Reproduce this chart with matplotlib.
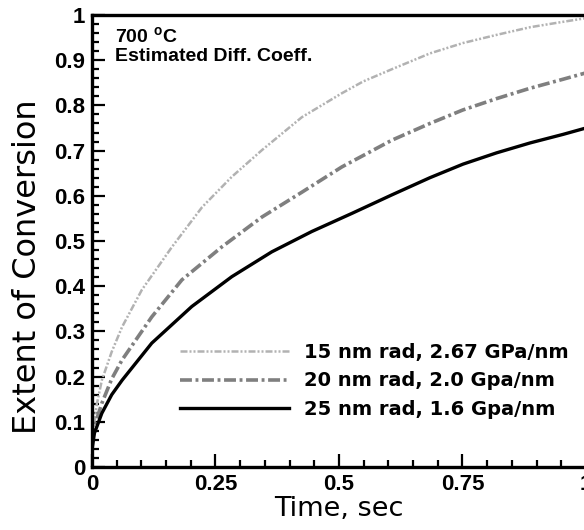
import matplotlib

matplotlib.use("Agg")
import matplotlib.pyplot as plt
from matplotlib.ticker import MultipleLocator

plt.rcParams["font.family"] = ["Liberation Sans", "DejaVu Sans"]

# values
t_15nm = [0.0, 0.01, 0.02, 0.04, 0.061, 0.101, 0.162, 0.223, 0.283, 0.344,
          0.425, 0.506, 0.549, 0.607, 0.684, 0.751, 0.819, 0.887, 0.954, 1.0]
x_15nm = [0.06, 0.14, 0.192, 0.255, 0.31, 0.392, 0.487, 0.575, 0.642, 0.701,
          0.774, 0.827, 0.853, 0.88, 0.915, 0.938, 0.956, 0.973, 0.985, 0.993]

t_20nm = [0.0, 0.008, 0.02, 0.04, 0.061, 0.121, 0.182, 0.263, 0.344, 0.425,
          0.506, 0.607, 0.684, 0.751, 0.819, 0.887, 0.954, 1.0]
x_20nm = [0.06, 0.10, 0.141, 0.195, 0.237, 0.332, 0.414, 0.487, 0.553, 0.608,
          0.664, 0.723, 0.76, 0.79, 0.815, 0.838, 0.858, 0.872]

t_25nm = [0.0, 0.005, 0.02, 0.04, 0.061, 0.121, 0.202, 0.283, 0.364, 0.445,
          0.526, 0.607, 0.684, 0.751, 0.819, 0.887, 0.954, 1.0]
x_25nm = [0.038, 0.075, 0.119, 0.16, 0.192, 0.274, 0.355, 0.421, 0.476, 0.521,
          0.561, 0.602, 0.64, 0.67, 0.695, 0.717, 0.736, 0.75]

labels = ["15 nm rad, 2.67 GPa/nm", "20 nm rad, 2.0 Gpa/nm", "25 nm rad, 1.6 Gpa/nm"]
x_ticks = [0, 0.25, 0.5, 0.75, 1]
x_tick_labels = ["0", "0.25", "0.5", "0.75", "1"]
y_ticks = [0, 0.1, 0.2, 0.3, 0.4, 0.5, 0.6, 0.7, 0.8, 0.9, 1]
y_tick_labels = ["0", "0.1", "0.2", "0.3", "0.4", "0.5", "0.6", "0.7", "0.8", "0.9", "1"]

fig = plt.figure(figsize=(5.84, 5.30), dpi=100)
ax = fig.add_axes([0.1575, 0.1189, 0.8459, 0.8528])

ax.plot(t_15nm, x_15nm, color="#b2b2b2", linewidth=1.8,
        dashes=(2.8, 0.8, 0.8, 0.8, 0.8, 0.8), label=labels[0])
ax.plot(t_20nm, x_20nm, color="#7f7f7f", linewidth=2.6,
        dashes=(3.3, 1.0, 0.8, 1.0), label=labels[1])
ax.plot(t_25nm, x_25nm, color="black", linewidth=2.4, label=labels[2])

ax.set_xlim(0, 1)
ax.set_ylim(0, 1)
ax.set_xticks(x_ticks, labels=x_tick_labels)
ax.set_yticks(y_ticks, labels=y_tick_labels)
ax.xaxis.set_minor_locator(MultipleLocator(0.05))
ax.yaxis.set_minor_locator(MultipleLocator(0.02))
ax.tick_params(which="both", direction="in", top=False, right=False, width=1.6)
ax.tick_params(which="major", length=9.5, labelsize=16, pad=5)
ax.tick_params(which="minor", length=5)
for lab in ax.get_xticklabels() + ax.get_yticklabels():
    lab.set_fontweight("bold")
for side in ax.spines.values():
    side.set_linewidth(2.4)

ax.set_xlabel("Time, sec", fontsize=19.5, family="DejaVu Sans", labelpad=1)
ax.set_ylabel("Extent of Conversion", fontsize=23, family="DejaVu Sans")
ax.yaxis.set_label_coords(-0.1, 0.443)

ax.text(0.046, 0.975, "700 $^{\\mathregular{o}}$C\nEstimated Diff. Coeff.",
        transform=ax.transAxes, fontsize=14, fontweight="bold",
        va="top", ha="left", linespacing=1.05)

leg = ax.legend(loc="upper left", bbox_to_anchor=(0.178, 0.275), frameon=False,
                borderpad=0, borderaxespad=0,
                handlelength=5.6, handletextpad=0.8, labelspacing=0.5,
                prop={"size": 14, "weight": "bold", "family": "DejaVu Sans"})

fig.savefig("out.png", dpi=100)
